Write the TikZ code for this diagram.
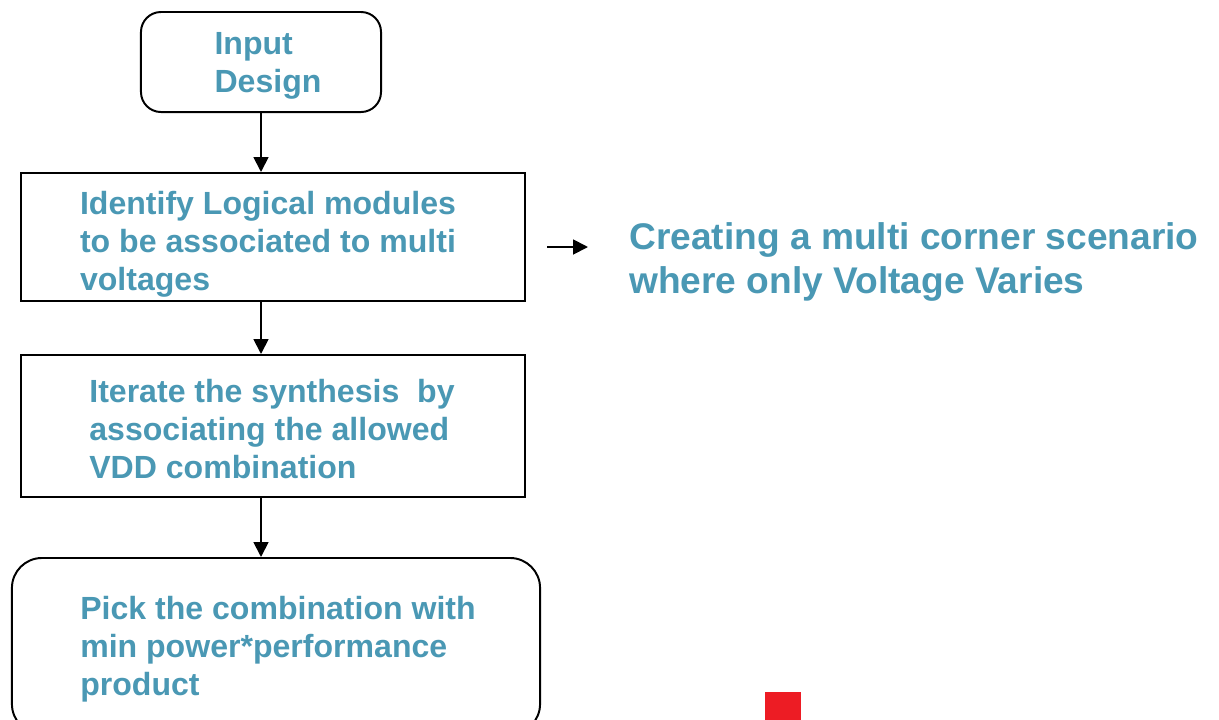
\documentclass[tikz,border=0pt]{standalone}
\usepackage{fontspec}
\setmainfont{Liberation Sans}
\usepackage{xcolor}
\usetikzlibrary{arrows.meta}

\definecolor{flowtext}{RGB}{74,152,180}
\definecolor{marker}{RGB}{237,28,36}

\tikzset{
  stage/.style={draw,line width=1.4pt,inner sep=0pt},
  stagetext/.style={align=left,inner sep=0pt,text=flowtext,
    font=\bfseries\fontsize{22.8}{27}\selectfont},
  flow/.style={line width=1.3pt,-{Triangle[length=10.5pt,width=10.5pt]}}
}

\begin{document}
\begin{tikzpicture}[x=0.025cm,y=-0.025cm]
\useasboundingbox (0,0) rectangle (1219,719);
\clip (0,0) rectangle (1219,719);

% the flow, top to bottom
\node [stage,rounded corners=0.5cm,minimum width=6cm,minimum height=2.5cm] (input) at (261,62) {};
\node [stage,minimum width=12.6cm,minimum height=3.2cm] (identify) at (273,237) {};
\node [stage,minimum width=12.6cm,minimum height=3.55cm] (iterate) at (273,426) {};
\node [stage,rounded corners=0.75cm,minimum width=13.2cm,minimum height=4.4cm] (pick) at (276,646) {};

\node [stagetext] (inputtext) at ([shift={(7,4)}]input.center) {Input\\Design};
\node [stagetext] (identifytext) at ([shift={(-5,7)}]identify.center)
  {Identify Logical modules\\to be associated to multi\\voltages};
\node [stagetext] (iteratetext) at ([shift={(-1,3)}]iterate.center)
  {Iterate the synthesis~ by\\associating the allowed\\VDD combination};
\node [stagetext] (picktext) at ([shift={(2,3)}]pick.center)
  {Pick the combination with\\min power*performance\\product};

\draw [flow] (input.south -| 261,0) -- (identify.north -| 261,0);
\draw [flow] (identify.south -| 261,0) -- (iterate.north -| 261,0);
\draw [flow] (iterate.south -| 261,0) -- (pick.north -| 261,0);

% side note
\coordinate (note) at (547,247);
\coordinate (noteend) at (588,247);
\draw [flow] (note) -- (noteend);
\node [stagetext,anchor=west,font=\bfseries\fontsize{26.4}{31.2}\selectfont]
  (scenario) at (629,262) {Creating a multi corner scenario\\where only Voltage Varies};

\fill [marker] (765,692) rectangle (801,730);
\end{tikzpicture}
\end{document}
